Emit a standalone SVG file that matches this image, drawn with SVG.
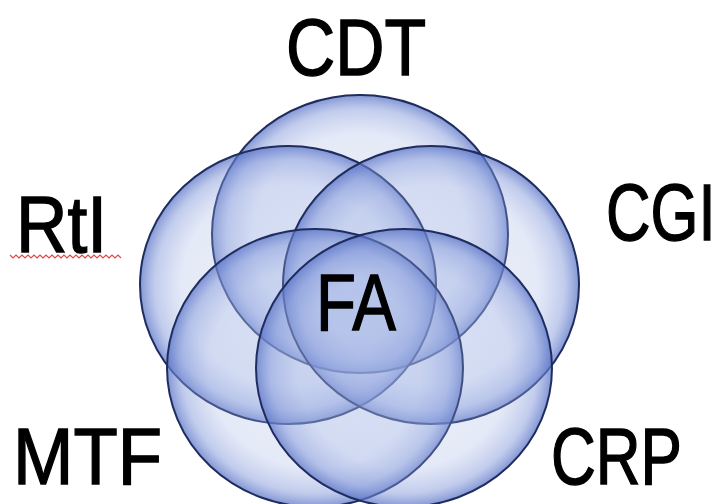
<svg xmlns="http://www.w3.org/2000/svg" width="722" height="504" viewBox="0 0 722 504">
  <defs>
    <radialGradient id="petal" cx="50%" cy="50%" r="50%">
      <stop offset="0%" stop-color="#a8b8e6" stop-opacity="0.22"/>
      <stop offset="72%" stop-color="#a0b2e4" stop-opacity="0.28"/>
      <stop offset="90%" stop-color="#7f95d8" stop-opacity="0.48"/>
      <stop offset="100%" stop-color="#5b74c8" stop-opacity="0.75"/>
    </radialGradient>
  </defs>
  <style>
    .petal { fill: url(#petal); stroke: #1f2d5e; stroke-width: 2; }
    .lbl { font-family: "Liberation Sans", Arial, sans-serif; font-size: 79px; fill: #000000; stroke: #000000; stroke-width: 1.4; }
  </style>
  <rect width="722" height="504" fill="#ffffff"/>
  <g id="circles">
    <g id="node-cdt-circle"><ellipse class="petal" cx="360" cy="234" rx="148" ry="139"/></g>
    <g id="node-rti-circle"><ellipse class="petal" cx="288" cy="285" rx="148" ry="139"/></g>
    <g id="node-cgi-circle"><ellipse class="petal" cx="431" cy="285" rx="148" ry="139"/></g>
    <g id="node-mtf-circle"><ellipse class="petal" cx="315" cy="368" rx="148" ry="139"/></g>
    <g id="node-crp-circle"><ellipse class="petal" cx="404" cy="368" rx="148" ry="139"/></g>
  </g>
  <g id="labels">
    <g id="node-cdt"><text class="lbl" x="286" y="75" textLength="140" lengthAdjust="spacingAndGlyphs">CDT</text></g>
    <g id="node-cgi"><text class="lbl" transform="translate(606 240) scale(0.78 1)" x="0" y="0">CGI</text></g>
    <g id="node-rti">
      <text class="lbl" x="16" y="252" textLength="91" lengthAdjust="spacingAndGlyphs">RtI</text>
      <path d="M10 255 l3 3 l3 -3 l3 3 l3 -3 l3 3 l3 -3 l3 3 l3 -3 l3 3 l3 -3 l3 3 l3 -3 l3 3 l3 -3 l3 3 l3 -3 l3 3 l3 -3 l3 3 l3 -3 l3 3 l3 -3 l3 3 l3 -3 l3 3 l3 -3 l3 3 l3 -3 l3 3 l3 -3 l3 3 l3 -3 l3 3 l3 -3 l3 3 l3 -3 l3 3" fill="none" stroke="#e04848" stroke-width="1.2"/>
    </g>
    <g id="node-fa"><text class="lbl" x="316" y="330" textLength="80" lengthAdjust="spacingAndGlyphs">FA</text></g>
    <g id="node-mtf"><text class="lbl" x="13" y="484" textLength="149" lengthAdjust="spacingAndGlyphs">MTF</text></g>
    <g id="node-crp"><text class="lbl" x="551" y="484" textLength="131" lengthAdjust="spacingAndGlyphs">CRP</text></g>
  </g>
</svg>
